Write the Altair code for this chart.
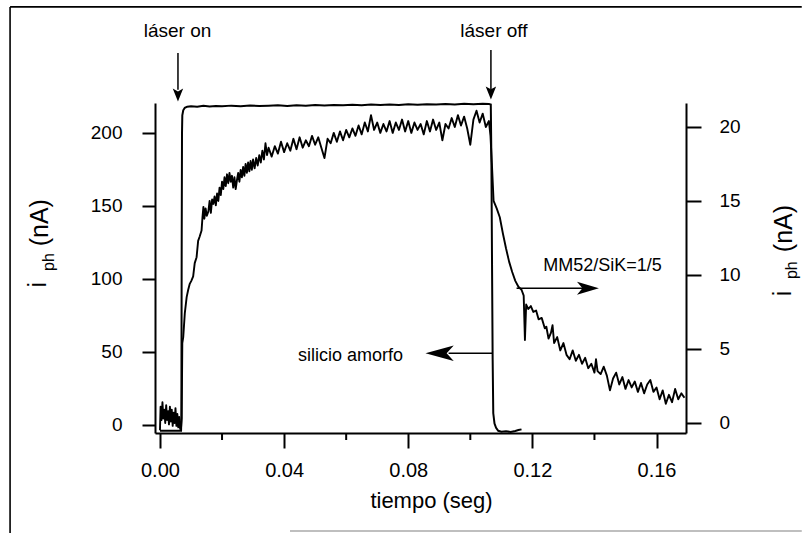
import altair as alt
import pandas as pd

FONT = "Liberation Sans"

# ---------------- data ----------------
# MM52/SiK=1/5 photocurrent (right axis, nA) vs time (s)
MM52_T = [
    0.0000, 0.0002, 0.0005, 0.0008, 0.0011, 0.0014, 0.0017, 0.0020, 0.0023, 0.0026,
    0.0029, 0.0032, 0.0035, 0.0038, 0.0041, 0.0044, 0.0047, 0.0050, 0.0053, 0.0056,
    0.0059, 0.0062, 0.0065, 0.0068, 0.0070, 0.0072, 0.0075, 0.0080, 0.0086, 0.0091,
    0.0096, 0.0101, 0.0107, 0.0112, 0.0118, 0.0123, 0.0128, 0.0134, 0.0137, 0.0140,
    0.0143, 0.0147, 0.0151, 0.0156, 0.0160, 0.0164, 0.0168, 0.0172, 0.0176, 0.0180,
    0.0184, 0.0188, 0.0192, 0.0196, 0.0200, 0.0204, 0.0208, 0.0212, 0.0216, 0.0220,
    0.0224, 0.0228, 0.0232, 0.0236, 0.0240, 0.0244, 0.0248, 0.0252, 0.0256, 0.0260,
    0.0264, 0.0268, 0.0272, 0.0276, 0.0280, 0.0284, 0.0288, 0.0292, 0.0296, 0.0300,
    0.0305, 0.0310, 0.0315, 0.0320, 0.0325, 0.0330, 0.0335, 0.0340, 0.0345,
    0.035, 0.036, 0.037, 0.038, 0.039, 0.040, 0.041, 0.042, 0.043, 0.044,
    0.045, 0.046, 0.047, 0.048, 0.049, 0.050, 0.051, 0.052, 0.053, 0.054,
    0.055, 0.056, 0.057, 0.058, 0.059, 0.060, 0.061, 0.062, 0.063, 0.064,
    0.065, 0.066, 0.067, 0.068, 0.069, 0.070, 0.071, 0.072, 0.073, 0.074,
    0.075, 0.076, 0.077, 0.078, 0.079, 0.080, 0.081, 0.082, 0.083, 0.084,
    0.085, 0.086, 0.087, 0.088, 0.089, 0.090, 0.091, 0.092, 0.093, 0.094,
    0.095, 0.096, 0.097, 0.098, 0.099, 0.100, 0.101, 0.102, 0.103, 0.104,
    0.105, 0.106, 0.1065, 0.1070, 0.1075, 0.1085, 0.1095, 0.1105, 0.1115, 0.1125,
    0.1135, 0.1145, 0.1155, 0.1165, 0.1172, 0.1176, 0.1180, 0.1187, 0.1195, 0.1203,
    0.1212, 0.1220, 0.1230, 0.1240, 0.1245, 0.1252, 0.1260, 0.1265, 0.1270, 0.1280,
    0.1290, 0.1300, 0.1310, 0.1320, 0.1330, 0.1340, 0.1350, 0.1360, 0.1370, 0.1380,
    0.1390, 0.1400, 0.1405, 0.1410, 0.1420, 0.1430, 0.1440, 0.1450, 0.1460, 0.1470,
    0.1480, 0.1490, 0.1500, 0.1510, 0.1520, 0.1530, 0.1540, 0.1550, 0.1560, 0.1570,
    0.1580, 0.1590, 0.1600, 0.1610, 0.1620, 0.1630, 0.1640, 0.1650, 0.1660, 0.1670,
    0.1680, 0.1690,
]
MM52_I = [
    -0.5, 1.1, 0.2, 1.4, 0.3, 0.9, 0.0, 1.2, 0.2, 0.8,
    -0.1, 1.1, 0.1, 0.9, -0.2, 0.7, 0.0, 1.0, -0.2, 0.6,
    -0.3, 0.4, -0.4, -0.3, 0.3, 5.4, 5.8, 7.4, 8.5, 9.0,
    9.4, 9.6, 9.9, 10.8, 11.2, 12.3, 12.6, 13.0, 13.9, 14.6,
    13.8, 14.5, 14.0, 14.3, 15.0, 14.2, 15.1, 14.8, 15.3, 14.7,
    15.5, 15.0, 15.9, 15.4, 16.3, 15.8, 16.6, 16.0, 16.8, 16.2,
    16.9, 16.3, 16.7, 15.9, 16.6, 15.8, 16.4, 16.9, 16.3, 17.1,
    16.6, 17.3, 16.7, 17.5, 16.9, 17.6, 17.0, 17.7, 17.1, 17.8,
    17.2, 17.9, 17.4, 18.1, 17.6, 18.4, 17.8, 18.9, 18.1,
    18.6, 18.0, 18.7, 18.2, 19.0, 18.3, 18.9, 18.4, 19.2, 18.5,
    19.3, 18.6, 19.1, 18.7, 19.4, 18.8, 19.3, 18.6, 17.9, 19.2,
    18.9, 19.6, 19.0, 19.7, 19.1, 19.8, 19.3, 19.9, 19.4, 20.1,
    19.5, 20.3, 19.7, 20.8, 19.8, 20.3, 19.6, 20.2, 19.7, 20.4,
    19.6, 20.3, 19.8, 20.5, 19.7, 20.4, 19.6, 20.3, 19.8, 20.2,
    19.5, 20.4, 19.7, 20.5, 19.8, 20.3, 19.1, 20.2, 19.9, 20.6,
    20.0, 20.8, 20.1, 20.7, 19.9, 18.8, 20.5, 21.1, 20.3, 20.9,
    20.0, 20.4, 19.4, 17.3, 15.0, 14.5, 13.9, 12.8, 11.8, 10.9,
    10.2, 9.6, 9.2, 9.0, 8.6, 5.6, 8.0, 7.7, 7.9, 7.5,
    7.6, 7.0, 7.1, 6.4, 6.5, 5.7, 6.1, 6.6, 5.4, 5.8,
    4.9, 5.4, 4.6, 4.3, 4.9, 4.2, 4.6, 4.0, 4.4, 3.7,
    4.0, 3.4, 4.3, 3.5, 3.3, 3.8, 3.2, 2.2, 3.0, 3.4,
    2.6, 3.1, 2.3, 2.9, 2.4, 2.8, 2.1, 2.7, 2.0, 2.6,
    2.9, 2.1, 2.4, 1.6, 2.2, 1.3, 1.9, 1.4, 2.3, 1.6,
    2.0, 1.7,
]

# silicio amorfo photocurrent (left axis, nA) vs time (s)
SI_T = [
    0.0000, 0.0068, 0.0069, 0.0070, 0.0071, 0.0072, 0.0075, 0.0080, 0.0088, 0.0100,
    0.0120, 0.0140, 0.0160, 0.0180, 0.0200, 0.0230, 0.0260, 0.0290, 0.0320, 0.0350,
    0.0380, 0.0410, 0.0440, 0.0470, 0.0500, 0.0530, 0.0560, 0.0590, 0.0620, 0.0650,
    0.0680, 0.0710, 0.0740, 0.0770, 0.0800, 0.0830, 0.0860, 0.0890, 0.0920, 0.0950,
    0.0980, 0.1010, 0.1040, 0.1060, 0.1066, 0.1068, 0.1070, 0.1072, 0.1074, 0.1078,
    0.1083, 0.1090, 0.1100, 0.1115, 0.1130, 0.1145, 0.1155, 0.1165,
]
SI_I = [
    -3.9, -3.9, 5.0, 120.0, 200.0, 212.0, 215.5, 217.2, 218.0, 218.3,
    218.0, 218.6, 218.1, 218.5, 218.2, 218.7, 218.3, 218.8, 218.4, 218.7,
    218.9, 218.5, 219.0, 218.7, 219.1, 218.8, 219.2, 218.9, 219.3, 219.0,
    219.4, 219.1, 219.5, 219.2, 219.6, 219.3, 219.7, 219.4, 219.8, 219.5,
    219.9, 219.6, 220.0, 219.8, 219.5, 180.0, 110.0, 45.0, 8.0, 1.0,
    -2.0, -4.0, -4.6, -4.3, -4.8, -4.1, -3.5, -3.0,
]

X_TICKS = [0.0, 0.04, 0.08, 0.12, 0.16]
X_MINOR = [0.02, 0.06, 0.10, 0.14]
LEFT_TICKS = [0, 50, 100, 150, 200]
RIGHT_TICKS = [0, 5, 10, 15, 20]

X_DOM = [-0.0016, 0.1695]
L_DOM = [-5.5, 220.5]
R_DOM = [-0.68, 21.62]

# annotations (time, left-axis value)
LABEL_TEXT = ["láser on", "láser off", "silicio amorfo", "MM52/SiK=1/5", "tiempo (seg)"]
LABEL_T = [0.00564, 0.1076, 0.0614, 0.1426, 0.0875]
LABEL_V = [269.9, 269.9, 47.3, 108.6, -52.0]
LABEL_SIZE = [19, 19, 18, 18, 22]

# ---------------- tables ----------------
mm52 = pd.DataFrame({"t": MM52_T, "i": MM52_I, "idx": range(len(MM52_T))})
si = pd.DataFrame({"t": SI_T, "i": SI_I, "idx": range(len(SI_T))})
labels = pd.DataFrame({"t": LABEL_T, "v": LABEL_V, "text": LABEL_TEXT, "size": LABEL_SIZE})

xs = alt.Scale(domain=X_DOM, nice=False, zero=False)
ls = alt.Scale(domain=L_DOM, nice=False, zero=False)
rs = alt.Scale(domain=R_DOM, nice=False, zero=False)

x_axis = alt.Axis(values=X_TICKS, format=".2f", tickSize=15, tickWidth=2, domainWidth=2,
                  domainColor="black", tickColor="black", labelColor="black",
                  labelFont=FONT, labelFontSize=20, labelPadding=12, grid=False,
                  title=None, labelFlush=False, orient="bottom")
left_axis = alt.Axis(orient="left", values=LEFT_TICKS, tickSize=13, tickWidth=2, domainWidth=2,
                     domainColor="black", tickColor="black", labelColor="black",
                     labelFont=FONT, labelFontSize=19, labelPadding=20, grid=False,
                     title=None, labelFlush=False)
right_axis = alt.Axis(orient="right", values=RIGHT_TICKS, tickSize=15, tickWidth=2, domainWidth=2,
                      domainColor="black", tickColor="black", labelColor="black",
                      labelFont=FONT, labelFontSize=19, labelPadding=18, grid=False,
                      title=None, labelFlush=False)

def X(field="t"):
    return alt.X(f"{field}:Q", scale=xs, axis=x_axis, title=None)

def YL(field="v"):
    return alt.Y(f"{field}:Q", scale=ls, axis=left_axis, title=None)

si_line = alt.Chart(si).mark_line(color="black", strokeWidth=2).encode(
    x=X(), y=YL("i"), order="idx:Q",
)

mm52_line = alt.Chart(mm52).mark_line(color="black", strokeWidth=1.9, strokeJoin="round").encode(
    x=X(),
    y=alt.Y("i:Q", scale=rs, axis=right_axis, title=None),
    order="idx:Q",
)

# minor x ticks (below the axis line)
minor = alt.Chart(pd.DataFrame({"t": X_MINOR, "v": [-5.5] * 4, "v2": [-10.3] * 4})).mark_rule(
    color="black", strokeWidth=2).encode(x=X(), y=YL(), y2="v2:Q")

texts = alt.Chart(labels).mark_text(font=FONT, color="black", align="center", baseline="middle").encode(
    x=X(), y=YL(), text="text:N", size=alt.Size("size:Q", scale=None, legend=None))

# arrow shafts
shafts = alt.Chart(pd.DataFrame({
    "t": [0.0058, 0.10664, 0.0930, 0.1149],
    "t2": [0.0058, 0.10664, 0.1073, 0.1366],
    "v": [254.8, 256.8, 49.1, 93.6],
    "v2": [229.5, 230.0, 49.1, 93.6],
})).mark_rule(color="black", strokeWidth=1.5).encode(x=X(), x2="t2:Q", y=YL(), y2="v2:Q")

DOWN = "M 0 1 L -0.8 -1 L 0 -0.55 L 0.8 -1 Z"
LEFT = "M -1 0 L 1 -0.55 L 0.5 0 L 1 0.55 Z"
RIGHT = "M 1 0 L -1 -0.6 L -0.5 0 L -1 0.6 Z"

def head(t, v, shape, size):
    return alt.Chart(pd.DataFrame({"t": [t], "v": [v]})).mark_point(
        shape=shape, filled=True, color="black", opacity=1, size=size, strokeWidth=0
    ).encode(x=X(), y=YL())

heads = [
    head(0.0058, 226.0, DOWN, 170),
    head(0.10664, 227.4, DOWN, 170),
    head(0.0901, 49.1, LEFT, 800),
    head(0.1379, 93.6, RIGHT, 480),
]

# rotated axis titles  i_ph (nA)
def rot(t, v, txt, size):
    return alt.Chart(pd.DataFrame({"t": [t], "v": [v], "s": [txt]})).mark_text(
        font=FONT, fontSize=size, angle=270, align="center", baseline="middle", color="black"
    ).encode(x=X(), y=YL(), text="s:N")

titles = [
    rot(-0.0387, 138.5, "(nA)", 25),
    rot(-0.0358, 111.6, "ph", 16),
    rot(-0.0393, 96.0, "i", 25),
    rot(0.2010, 134.5, "(nA)", 25),
    rot(0.2038, 106.0, "ph", 16),
    rot(0.2006, 90.0, "i", 25),
]

# scanned-page frame
frame = alt.Chart(pd.DataFrame({
    "t": [-0.0483, -0.0483, 0.0419],
    "t2": [0.2068, -0.0483, 0.2068],
    "v": [286.3, 286.3, -72.6],
    "v2": [286.3, -74.0, -72.6],
    "c": ["black", "black", "#aaaaaa"],
})).mark_rule(strokeWidth=1.6).encode(
    x=X(), x2="t2:Q", y=YL(), y2="v2:Q", color=alt.Color("c:N", scale=None, legend=None))

left_group = alt.layer(si_line, minor, texts, shafts, *heads, *titles, frame)
chart = alt.layer(left_group, mm52_line).resolve_scale(y="independent").properties(
    width=531, height=330,
    padding={"left": 155, "top": 103, "right": 116, "bottom": 100},
    autosize=alt.AutoSizeParams(type="none"),
    background="white",
).configure_view(stroke=None).configure_axis(labelFont=FONT)

chart.save("out.html", embed_options={"renderer": "svg", "actions": False})
